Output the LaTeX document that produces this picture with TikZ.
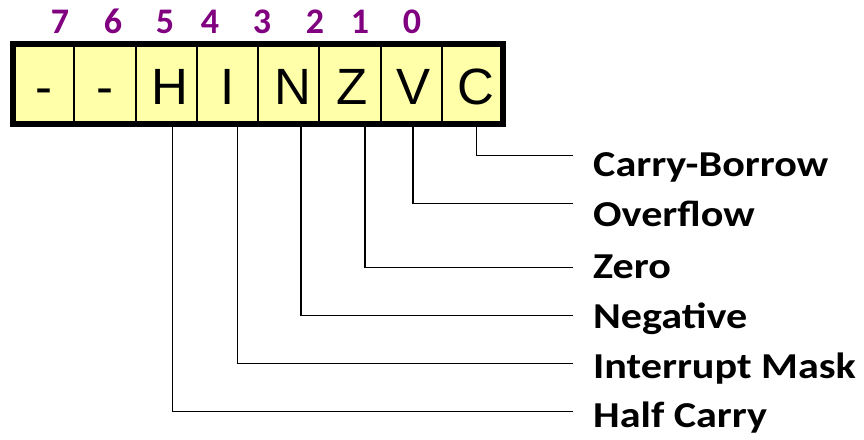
\documentclass[tikz,border=0pt]{standalone}
\usepackage{fontspec}
\setmainfont{Liberation Sans}
\newfontfamily\lblfont{Carlito}
\definecolor{cellfill}{HTML}{FFFFAA}
\definecolor{bitpurple}{HTML}{800080}
\newcommand{\wide}[1]{\scalebox{1.155}[1]{#1}}
\begin{document}
\begin{tikzpicture}[x=1pt,y=-1pt,
  cellbox/.style={draw=black,line width=2pt,fill=cellfill,minimum width=61.25pt,minimum height=80pt,inner sep=0pt,outer sep=0pt,anchor=north west},
  celltext/.style={font=\fontsize{51}{51}\selectfont,anchor=base,inner sep=0pt},
  bitnum/.style={font=\lblfont\bfseries\fontsize{36}{36}\selectfont,text=bitpurple,anchor=base,inner sep=0pt},
  flaglbl/.style={font=\lblfont\bfseries\fontsize{36.5}{36.5}\selectfont,anchor=base west,inner sep=0pt},
  conn/.style={draw=black,line width=1.5pt}]
\useasboundingbox (0,0) rectangle (864,439);
% cells
\foreach \i/\n in {0/c7,1/c6,2/cH,3/cI,4/cN,5/cZ,6/cV,7/cC}{
  \node[cellbox] (\n) at ({13+61.25*\i},44) {};
}
% cell letters
\foreach \n/\t/\dx in {c7/-/0,c6/-/0,cH/H/4,cI/I/0,cN/N/4,cZ/Z/2,cV/V/2,cC/C/4}{
  \node[celltext] at ([xshift=\dx pt,yshift=-20.7pt]\n.center) {\t};
}
% bit numbers
\node[bitnum] (b7) at (60,33) {7};
\node[bitnum] (b6) at (113,33) {6};
\node[bitnum] (b5) at (165,33) {5};
\node[bitnum] (b4) at (210,33) {4};
\node[bitnum] (b3) at (262,33) {3};
\node[bitnum] (b2) at (315,33) {2};
\node[bitnum] (b1) at (360,33) {1};
\node[bitnum] (b0) at (412,33) {0};
% outer border
\draw[line width=6pt] (c7.north west) rectangle (cC.south east);
% labels
\node[flaglbl] (lC) at (593,176.7) {\wide{Carry-Borrow}};
\node[flaglbl] (lV) at (593,226) {\wide{Overflow}};
\node[flaglbl] (lZ) at (593,278.3) {\wide{Zero}};
\node[flaglbl] (lN) at (593,328) {\wide{Negative}};
\node[flaglbl] (lI) at (593,378) {\wide{Interrupt Mask}};
\node[flaglbl] (lH) at (593,427) {\wide{Half Carry}};
% connector ends
\coordinate (eC) at (573,155.7);
\coordinate (eV) at (573,203.7);
\coordinate (eZ) at (573,267.7);
\coordinate (eN) at (573,315.7);
\coordinate (eI) at (573,363.7);
\coordinate (eH) at (573,411.7);
\draw[conn] ([xshift=4.3pt,yshift=3pt]cC.south) |- (eC);
\draw[conn] ([xshift=1.9pt,yshift=3pt]cV.south) |- (eV);
\draw[conn] ([xshift=15.1pt,yshift=3pt]cZ.south) |- (eZ);
\draw[conn] ([xshift=12.4pt,yshift=3pt]cN.south) |- (eN);
\draw[conn] ([xshift=9.9pt,yshift=3pt]cI.south) |- (eI);
\draw[conn] ([xshift=6.6pt,yshift=3pt]cH.south) |- (eH);
\end{tikzpicture}
\end{document}
